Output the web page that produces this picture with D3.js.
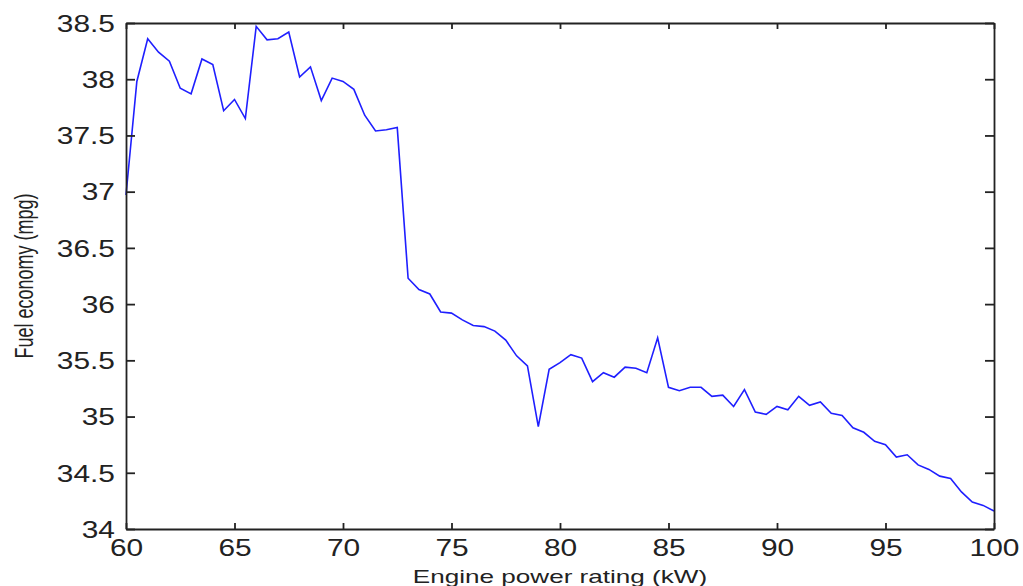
<!DOCTYPE html>
<html lang="en">
<head>
    <meta charset="UTF-8">
    <title>Fuel economy vs engine power</title>
    <script src="https://d3js.org/d3.v7.min.js"></script>
    <style>
        body { margin: 0; background: #fff; }
        text { font-family: "Liberation Sans", Arial, sans-serif; fill: #222; }
        .line { fill: none; stroke: #1f1fff; stroke-width: 1.6px; }
        .axis path, .axis line { stroke: #222; stroke-width: 1.8px; }
    </style>
</head>
<body>
    <svg id="chart" width="1023" height="586"></svg>

    <script>
        // engine power rating (kW), one point every 0.5 kW
        var power = d3.range(81).map(function(i) { return 60 + i * 0.5; });

        // fuel economy (mpg)
        var mpg = [
            36.97, 37.98, 38.36, 38.24, 38.16, 37.92, 37.87, 38.18, 38.13, 37.72,
            37.82, 37.65, 38.47, 38.35, 38.36, 38.42, 38.02, 38.11, 37.81, 38.01,
            37.98, 37.91, 37.68, 37.54, 37.55, 37.57, 36.23, 36.13, 36.09, 35.93,
            35.92, 35.86, 35.81, 35.80, 35.76, 35.68, 35.54, 35.45, 34.91, 35.42,
            35.48, 35.55, 35.52, 35.31, 35.39, 35.35, 35.44, 35.43, 35.39, 35.70,
            35.26, 35.23, 35.26, 35.26, 35.18, 35.19, 35.09, 35.24, 35.04, 35.02,
            35.09, 35.06, 35.18, 35.10, 35.13, 35.03, 35.01, 34.90, 34.86, 34.78,
            34.75, 34.64, 34.66, 34.57, 34.53, 34.47, 34.45, 34.33, 34.24, 34.21,
            34.16
        ];

        var xTicks = [60, 65, 70, 75, 80, 85, 90, 95, 100];
        var yTicks = [34, 34.5, 35, 35.5, 36, 36.5, 37, 37.5, 38, 38.5];

        var margin = {top: 23, right: 29, bottom: 57, left: 126},
            width = 1023 - margin.left - margin.right,
            height = 586 - margin.top - margin.bottom;

        var x = d3.scaleLinear().domain([60, 100]).range([0, width]);
        var y = d3.scaleLinear().domain([34, 38.5]).range([height, 0]);

        var svg = d3.select("#chart")
            .append("g")
            .attr("transform", "translate(" + margin.left + "," + margin.top + ")");

        var data = power.map(function(p, i) { return {power: p, mpg: mpg[i]}; });

        var line = d3.line()
            .x(function(d) { return x(d.power); })
            .y(function(d) { return y(d.mpg); });

        svg.append("path")
            .datum(data)
            .attr("class", "line")
            .attr("d", line);

        // MATLAB-like box with inward ticks
        svg.append("g")
            .attr("class", "axis x-axis")
            .attr("transform", "translate(0," + height + ")")
            .call(d3.axisBottom(x).tickValues(xTicks).tickSizeInner(-6).tickSizeOuter(0)
                .tickFormat(d3.format("d")));

        svg.append("g")
            .attr("class", "axis")
            .call(d3.axisTop(x).tickValues(xTicks).tickSizeInner(-6).tickSizeOuter(0)
                .tickFormat(""));

        svg.append("g")
            .attr("class", "axis y-axis")
            .call(d3.axisLeft(y).tickValues(yTicks).tickSizeInner(-9).tickSizeOuter(0)
                .tickFormat(function(d) { return d3.format("")(d); }));

        svg.append("g")
            .attr("class", "axis")
            .attr("transform", "translate(" + width + ",0)")
            .call(d3.axisRight(y).tickValues(yTicks).tickSizeInner(-9).tickSizeOuter(0)
                .tickFormat(""));

        svg.selectAll(".x-axis text")
            .attr("y", null).attr("dy", null)
            .attr("transform", "translate(0,27) scale(1.3,1)")
            .style("font-size", "23px");

        svg.selectAll(".y-axis text")
            .attr("x", null).attr("dy", "0.36em")
            .attr("transform", "translate(-11,0) scale(1.3,1)")
            .style("font-size", "23px");

        svg.selectAll(".axis text").style("fill", "#222");

        // the end ticks sit on the box edges anyway
        svg.selectAll(".axis .domain").attr("stroke", "#222");

        svg.append("text")
            .attr("text-anchor", "middle")
            .attr("transform", "translate(" + (width / 2) + "," + (height + 54) + ") scale(1.45,1)")
            .style("font-size", "18px")
            .text("Engine power rating (kW)");

        svg.append("text")
            .attr("text-anchor", "middle")
            .attr("transform", "translate(" + (33 - margin.left) + "," + (height / 2) + ") scale(1.4,1) rotate(-90)")
            .style("font-size", "18px")
            .text("Fuel economy (mpg)");
    </script>
</body>
</html>
